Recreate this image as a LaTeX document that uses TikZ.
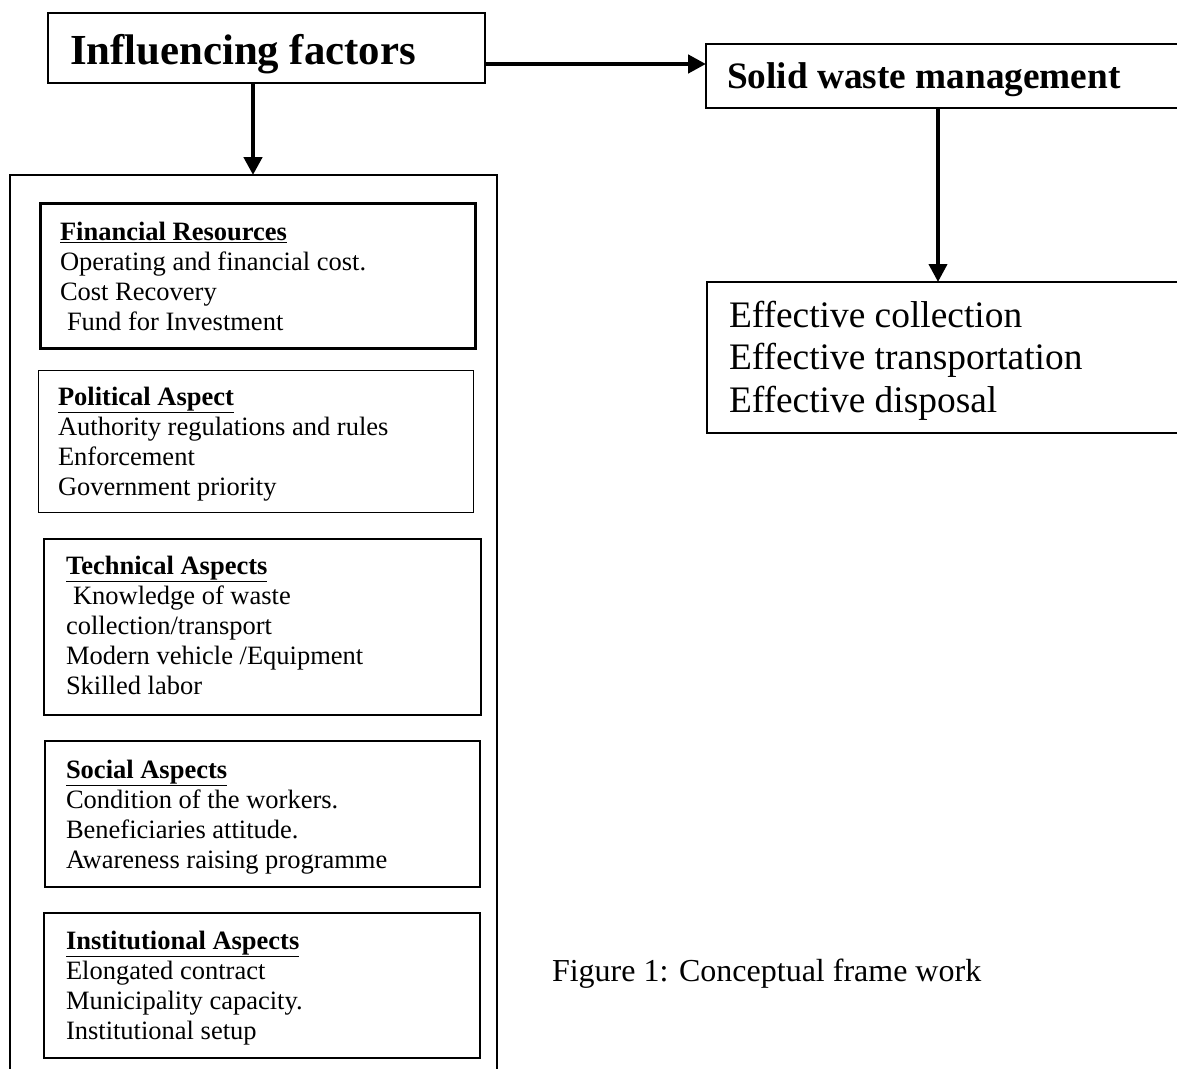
\documentclass[tikz,border=0pt]{standalone}
\usepackage{fontspec}
\setmainfont{Liberation Serif}
\usetikzlibrary{arrows.meta}
\begin{document}
\begin{tikzpicture}[x=1pt,y=-1pt,
  frame/.style={draw, anchor=north west, inner sep=0pt, outer sep=0pt},
  txt/.style={anchor=base west, inner sep=0pt, outer sep=0pt},
  arr/.style={line width=4.8pt, -{Triangle[width=18pt,length=18pt]}},
  small/.style={font=\fontsize{26.5}{30}\selectfont},
]
\useasboundingbox (0,0) rectangle (1177,1068);
% boxes
\node[frame, line width=2pt, minimum width=437pt, minimum height=70pt] (inf) at (48,13) {};
\node[frame, line width=2pt, minimum width=480pt, minimum height=64pt] (sw) at (706,44) {};
\node[frame, line width=2pt, minimum width=480pt, minimum height=151pt] (eff) at (707,282) {};
\node[frame, line width=1.2pt, minimum width=487pt, minimum height=905pt] (outer) at (10,175) {};
\node[frame, line width=3pt, minimum width=435pt, minimum height=145pt] (fin) at (40,203) {};
\node[frame, line width=1pt, minimum width=435pt, minimum height=142pt] (pol) at (38,370) {};
\node[frame, line width=2.2pt, minimum width=437pt, minimum height=176pt] (tech) at (44,539) {};
\node[frame, line width=2.2pt, minimum width=435pt, minimum height=146pt] (soc) at (45,741) {};
\node[frame, line width=2.2pt, minimum width=436pt, minimum height=145pt] (inst) at (44,913) {};
% texts
\node[txt, font=\fontsize{42.8}{50}\selectfont\bfseries] (inft) at (70,64) {Influencing factors};
\node[txt, font=\fontsize{37.3}{44}\selectfont\bfseries] (swt) at (727,88) {Solid waste management};
\node[txt, font=\fontsize{37.4}{42.5}\selectfont] (efft) at (729,327)
  {\begin{tabular}[t]{@{}l@{}}Effective collection\\ Effective transportation\\ Effective disposal\end{tabular}};
\node[txt, small] (fint) at (60,240)
  {\begin{tabular}[t]{@{}l@{}}\underline{\textbf{Financial Resources}}\\ Operating and financial cost.\\ Cost Recovery\\ \hspace{7pt}Fund for Investment\end{tabular}};
\node[txt, small] (polt) at (58,405)
  {\begin{tabular}[t]{@{}l@{}}\underline{\textbf{Political Aspect}}\\ Authority regulations and rules\\ Enforcement\\ Government priority\end{tabular}};
\node[txt, small] (techt) at (66,574)
  {\begin{tabular}[t]{@{}l@{}}\underline{\textbf{Technical Aspects}}\\ \hspace{7pt}Knowledge of waste\\ collection/transport\\ Modern vehicle /Equipment\\ Skilled labor\end{tabular}};
\node[txt, small] (soct) at (66,778)
  {\begin{tabular}[t]{@{}l@{}}\underline{\textbf{Social Aspects}}\\ Condition of the workers.\\ Beneficiaries attitude.\\ Awareness raising programme\end{tabular}};
\node[txt, small] (instt) at (66,949)
  {\begin{tabular}[t]{@{}l@{}}\underline{\textbf{Institutional Aspects}}\\ Elongated contract\\ Municipality capacity.\\ Institutional setup\end{tabular}};
\node[txt, font=\fontsize{32}{38}\selectfont] (cap) at (552,981) {Figure 1: Conceptual frame work};
% connectors
\coordinate (hy) at (0,64);
\coordinate (dx) at (938,0);
\coordinate (ax) at (253,0);
\draw[arr] (inf.east |- hy) -- (sw.west |- hy);
\draw[arr] (inf.south -| ax) -- (outer.north -| ax);
\draw[arr, line width=4pt] (sw.south -| dx) -- (eff.north -| dx);
\end{tikzpicture}
\end{document}
